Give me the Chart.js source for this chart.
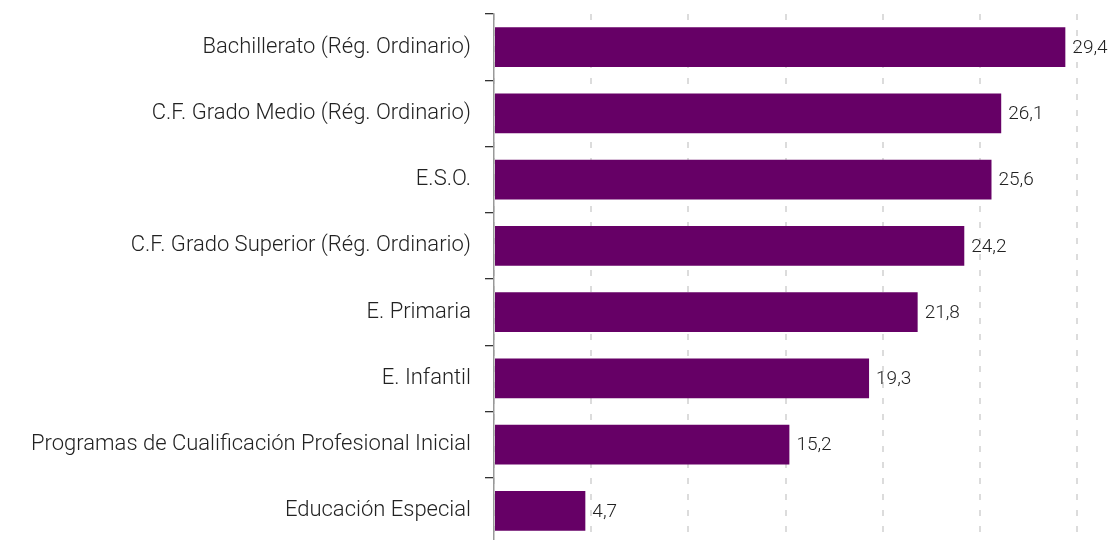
<!DOCTYPE html>
<html>
<head>
<meta charset="utf-8">
<script src="https://cdn.jsdelivr.net/npm/chart.js@4"></script>
<style>
  html, body { margin: 0; padding: 0; background: #fff; overflow: hidden; }
  #wrap { width: 1113px; height: 558px; }
</style>
</head>
<body>
<div id="wrap"><canvas id="myChart"></canvas></div>
<script>
const labels = [
  'Bachillerato (Rég. Ordinario)',
  'C.F. Grado Medio (Rég. Ordinario)',
  'E.S.O.',
  'C.F. Grado Superior (Rég. Ordinario)',
  'E. Primaria',
  'E. Infantil',
  'Programas de Cualificación Profesional Inicial',
  'Educación Especial'
];
const values = [29.4, 26.1, 25.6, 24.2, 21.8, 19.3, 15.2, 4.7];

const fontFamily = 'Roboto, "Open Sans", sans-serif';

// writes the value next to each bar
const valueLabels = {
  id: 'valueLabels',
  afterDatasetsDraw(chart) {
    const ctx = chart.ctx;
    const meta = chart.getDatasetMeta(0);
    ctx.save();
    ctx.font = '300 19px ' + fontFamily;
    ctx.fillStyle = '#222';
    ctx.textAlign = 'left';
    ctx.textBaseline = 'middle';
    meta.data.forEach((bar, i) => {
      const txt = values[i].toFixed(1).replace('.', ',');
      ctx.fillText(txt, bar.x + 7, bar.y + 1);
    });
    ctx.restore();
  }
};

new Chart('myChart', {
  type: 'bar',
  data: {
    labels: labels,
    datasets: [{
      data: values,
      backgroundColor: '#660066',
      borderWidth: 0,
      categoryPercentage: 0.6,
      barPercentage: 1
    }]
  },
  options: {
    indexAxis: 'y',
    responsive: true,
    maintainAspectRatio: false,
    animation: false,
    layout: { padding: { top: 8, right: 36, bottom: 0, left: 0 } },
    plugins: {
      legend: { display: false },
      tooltip: { enabled: false }
    },
    scales: {
      x: {
        min: 0,
        max: 30,
        ticks: { display: false, stepSize: 5 },
        grid: {
          color: '#dcdcdc',
          lineWidth: 2,
          drawTicks: false
        },
        border: { display: false, dash: [6, 10] }
      },
      y: {
        afterFit(scale) { scale.width = 494; },
        ticks: {
          color: '#222',
          padding: 14,
          font: { family: fontFamily, size: 22, weight: '300', lineHeight: 0.01 }
        },
        grid: {
          drawOnChartArea: false,
          drawTicks: true,
          tickLength: 9,
          color: '#333',
          lineWidth: 1.3
        },
        border: { display: true, color: '#999', width: 1.5 }
      }
    }
  },
  plugins: [valueLabels]
});
</script>
</body>
</html>
